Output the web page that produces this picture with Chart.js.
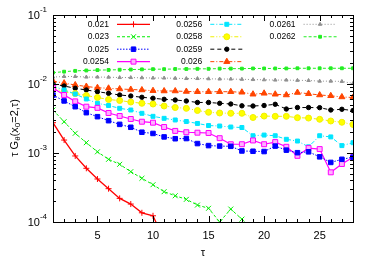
<!DOCTYPE html>
<html>
<head>
<meta charset="utf-8">
<script src="https://cdn.jsdelivr.net/npm/chart.js@4/dist/chart.umd.min.js"></script>
<style>
html, body { margin: 0; padding: 0; background: #fff; }
</style>
</head>
<body>
<canvas id="grafico" width="374" height="262"></canvas>
<script>
// valores
const tau = [1, 2, 3, 4, 5, 6, 7, 8, 9, 10, 11, 12, 13, 14, 15, 16, 17, 18, 19, 20, 21, 22, 23, 24, 25, 26, 27, 28];

const s021 = [2.75e-3, 1.54e-3, 9.06e-4, 6.0e-4, 4.2e-4, 3.04e-4, 2.2e-4, 1.82e-4, 1.36e-4, 1.23e-4, 5.5e-5];
const s023 = [4.2e-3, 2.84e-3, 1.93e-3, 1.41e-3, 1.04e-3, 8.1e-4, 6.86e-4, 5.36e-4, 4.3e-4, 3.47e-4,
  2.75e-4, 2.4e-4, 2.13e-4, 1.76e-4, 1.58e-4, 1.0e-4, 1.54e-4, 1.1e-4];
const s025 = [6.9e-3, 5.68e-3, 4.69e-3, 3.84e-3, 3.36e-3, 2.94e-3, 2.6e-3, 2.36e-3, 2.0e-3, 1.92e-3,
  1.71e-3, 1.61e-3, 1.62e-3, 1.37e-3, 1.28e-3, 1.26e-3, 1.25e-3, 1.07e-3, 1.06e-3, 1.05e-3,
  1.26e-3, 1.1e-3, 1.01e-3, 1.04e-3, 8.8e-4, 7.3e-4, 8.1e-4, 8.7e-4];
const s0254 = [8.75e-3, 6.93e-3, 5.6e-3, 4.69e-3, 4.51e-3, 3.8e-3, 3.44e-3, 3.11e-3, 2.84e-3, 2.75e-3,
  2.38e-3, 2.09e-3, 2.0e-3, 1.97e-3, 1.95e-3, 1.64e-3, 1.34e-3, 1.34e-3, 1.52e-3, 1.34e-3,
  1.44e-3, 1.23e-3, 9.1e-4, 1.18e-3, 1.14e-3, 5.25e-4, 6.93e-4, 8.67e-4];
const s0256 = [9.3e-3, 8.2e-3, 7.16e-3, 6.07e-3, 5.25e-3, 4.88e-3, 4.44e-3, 4.2e-3, 3.76e-3, 3.4e-3,
  3.18e-3, 3.01e-3, 2.86e-3, 2.68e-3, 2.5e-3, 2.46e-3, 2.38e-3, 2.34e-3, 1.78e-3, 1.82e-3,
  1.78e-3, 1.58e-3, 1.49e-3, 1.23e-3, 1.78e-3, 1.71e-3, 1.28e-3, 1.41e-3];
const s0258 = [8.75e-3, 7.73e-3, 7.28e-3, 6.81e-3, 6.37e-3, 5.96e-3, 5.76e-3, 5.48e-3, 5.25e-3, 5.13e-3,
  4.8e-3, 4.56e-3, 4.44e-3, 4.13e-3, 3.89e-3, 3.8e-3, 3.76e-3, 3.76e-3, 3.27e-3, 3.43e-3,
  3.4e-3, 3.4e-3, 3.25e-3, 3.21e-3, 3.08e-3, 2.91e-3, 2.79e-3, 2.59e-3];
const s0259 = [1.0e-2, 9.35e-3, 8.66e-3, 8.19e-3, 7.73e-3, 7.33e-3, 6.93e-3, 6.7e-3, 6.42e-3, 6.21e-3,
  6.0e-3, 5.86e-3, 5.67e-3, 5.4e-3, 5.4e-3, 5.25e-3, 5.13e-3, 4.83e-3, 4.8e-3, 4.88e-3,
  5.08e-3, 4.34e-3, 4.56e-3, 4.56e-3, 4.54e-3, 4.2e-3, 4.3e-3, 4.13e-3];
const s026 = [1.1e-2, 1.03e-2, 9.68e-3, 9.2e-3, 8.84e-3, 8.67e-3, 8.47e-3, 8.33e-3, 8.19e-3, 8.0e-3,
  7.92e-3, 7.92e-3, 7.79e-3, 7.73e-3, 7.73e-3, 7.73e-3, 7.73e-3, 7.59e-3, 7.11e-3, 7.33e-3,
  7.1e-3, 6.93e-3, 7.53e-3, 7.23e-3, 6.93e-3, 6.75e-3, 6.49e-3, 6.37e-3];
const s0261 = [1.26e-2, 1.285e-2, 1.285e-2, 1.26e-2, 1.26e-2, 1.255e-2, 1.24e-2, 1.24e-2, 1.23e-2, 1.22e-2,
  1.22e-2, 1.21e-2, 1.2e-2, 1.2e-2, 1.19e-2, 1.18e-2, 1.18e-2, 1.17e-2, 1.16e-2, 1.15e-2,
  1.14e-2, 1.14e-2, 1.13e-2, 1.125e-2, 1.1e-2, 1.1e-2, 1.09e-2, 1.02e-2];
const s0262 = [1.46e-2, 1.51e-2, 1.55e-2, 1.57e-2, 1.59e-2, 1.6e-2, 1.61e-2, 1.62e-2, 1.63e-2, 1.64e-2,
  1.64e-2, 1.65e-2, 1.65e-2, 1.66e-2, 1.66e-2, 1.67e-2, 1.67e-2, 1.67e-2, 1.68e-2, 1.68e-2,
  1.68e-2, 1.68e-2, 1.69e-2, 1.69e-2, 1.69e-2, 1.69e-2, 1.69e-2, 1.69e-2];

const nomes = ["0.021", "0.023", "0.025", "0.0254", "0.0256", "0.0258", "0.0259", "0.026", "0.0261", "0.0262"];
const series = [s021, s023, s025, s0254, s0256, s0258, s0259, s026, s0261, s0262];

const xTicks = [5, 10, 15, 20, 25];
const yTicks = [1e-4, 1e-3, 1e-2, 1e-1];
const yExpoentes = ["-4", "-3", "-2", "-1"];

// estilo de cada curva (cor, tracejado, marcador)
const estilos = [
  { cor: "#ff0000", fundo: "#ff0000", dash: [], ponto: "cross", raio: 3, larg: 1.3 },
  { cor: "#00ee00", fundo: "#00ee00", dash: [3, 2], ponto: "crossRot", raio: 3.5, larg: 1 },
  { cor: "#0000ff", fundo: "#0000ff", dash: [1.5, 1.5], ponto: "rect", raio: 3.2, larg: 1 },
  { cor: "#ff00ff", fundo: "#ffb0ff", dash: [], ponto: "rect", raio: 3.5, larg: 1.2 },
  { cor: "#00e5ff", fundo: "#00e5ff", dash: [4, 2, 1, 2], ponto: "rect", raio: 2.8, larg: 1 },
  { cor: "#f0f000", fundo: "#ffff00", dash: [4, 2, 1, 2, 1, 2], ponto: "circle", raio: 3, larg: 1 },
  { cor: "#000000", fundo: "#000000", dash: [4, 3], ponto: "circle", raio: 2.2, larg: 1 },
  { cor: "#ff4500", fundo: "#ff4500", dash: [4, 2, 1, 2], ponto: "triangle", raio: 3.5, larg: 1 },
  { cor: "#909090", fundo: "#909090", dash: [1, 2], ponto: "triangle", raio: 2, larg: 1 },
  { cor: "#22ee22", fundo: "#22ee22", dash: [3, 2], ponto: "rect", raio: 2, larg: 1 }
];

const datasets = series.map((s, i) => ({
  label: nomes[i],
  data: s.map((v, k) => ({ x: tau[k], y: v })),
  borderColor: estilos[i].cor,
  backgroundColor: estilos[i].fundo,
  borderDash: estilos[i].dash,
  borderWidth: estilos[i].larg,
  pointStyle: estilos[i].ponto,
  pointRadius: estilos[i].raio,
  pointBorderWidth: 1,
  pointBorderColor: estilos[i].cor,
  pointBackgroundColor: estilos[i].fundo,
  tension: 0,
  clip: 0
}));

const fonte = "'Liberation Sans', Arial, sans-serif";

// eixos no estilo gnuplot, legenda em colunas e titulos com subscritos
const eixos = {
  id: "eixos",
  afterDraw(chart) {
    const { ctx, chartArea: a, scales: { x, y } } = chart;
    ctx.save();
    ctx.setLineDash([]);
    ctx.strokeStyle = "#000";
    ctx.lineWidth = 1;
    const linha = (x1, y1, x2, y2) => { ctx.beginPath(); ctx.moveTo(x1, y1); ctx.lineTo(x2, y2); ctx.stroke(); };

    // marcas do eixo x
    for (let t = x.min; t <= x.max; t++) {
      const px = Math.round(x.getPixelForValue(t)) + 0.5;
      const len = xTicks.includes(t) ? 6 : 3;
      linha(px, a.bottom, px, a.bottom - len);
      linha(px, a.top, px, a.top + len);
    }
    // marcas do eixo y (log)
    yTicks.forEach((v, i) => {
      const py = Math.round(y.getPixelForValue(v)) + 0.5;
      linha(a.left, py, a.left + 6, py);
      linha(a.right, py, a.right - 6, py);
      if (i < yTicks.length - 1) {
        for (let m = 2; m <= 9; m++) {
          const pm = Math.round(y.getPixelForValue(v * m)) + 0.5;
          linha(a.left, pm, a.left + 3, pm);
          linha(a.right, pm, a.right - 3, pm);
        }
      }
    });
    ctx.strokeRect(Math.round(a.left) + 0.5, Math.round(a.top) + 0.5, Math.round(a.right - a.left), Math.round(a.bottom - a.top));

    // rotulos
    ctx.fillStyle = "#000";
    ctx.font = "11px " + fonte;
    ctx.textAlign = "center";
    ctx.textBaseline = "middle";
    xTicks.forEach(t => ctx.fillText(String(t), x.getPixelForValue(t), a.bottom + 14));
    ctx.fillText("τ", (a.left + a.right) / 2, a.bottom + 31);

    yTicks.forEach((v, i) => {
      const py = y.getPixelForValue(v);
      ctx.font = "8px " + fonte;
      const w = ctx.measureText(yExpoentes[i]).width;
      ctx.textAlign = "left";
      ctx.fillText(yExpoentes[i], a.left - 6 - w, py - 5);
      ctx.font = "11px " + fonte;
      ctx.textAlign = "right";
      ctx.fillText("10", a.left - 6 - w, py + 1);
    });

    // titulo do eixo y: τ Gθ(x0=2,τ)
    const partes = [["τ G", 11, 0], ["θ", 8, 3], ["(x", 11, 0], ["0", 8, 3], ["=2,τ)", 11, 0]];
    let total = 0;
    partes.forEach(p => { ctx.font = p[1] + "px " + fonte; total += ctx.measureText(p[0]).width; });
    ctx.translate(15, 128);
    ctx.rotate(-Math.PI / 2);
    ctx.textAlign = "left";
    ctx.textBaseline = "middle";
    let cx = -total / 2;
    partes.forEach(p => {
      ctx.font = p[1] + "px " + fonte;
      ctx.fillText(p[0], cx, p[2]);
      cx += ctx.measureText(p[0]).width;
    });
    ctx.setTransform(1, 0, 0, 1, 0, 0);

    // legenda em 3 colunas
    ctx.font = "8.5px " + fonte;
    chart.data.datasets.forEach((d, i) => {
      const col = Math.floor(i / 4), row = i % 4;
      const lx = 117 + col * 93.3;
      const ly = 24.3 + row * 12.45;
      ctx.fillStyle = "#000";
      ctx.textAlign = "right";
      ctx.fillText(d.label, lx - 8, ly);
      ctx.strokeStyle = d.borderColor;
      ctx.lineWidth = d.borderWidth;
      ctx.setLineDash(d.borderDash);
      linha(lx, ly, lx + 33, ly);
      ctx.setLineDash([]);
      ctx.lineWidth = 1;
      ctx.fillStyle = d.pointBackgroundColor;
      Chart.helpers.drawPoint(ctx, { pointStyle: d.pointStyle, radius: d.pointRadius, rotation: 0, borderWidth: 1 }, lx + 16.5, ly);
    });
    ctx.restore();
  }
};

new Chart(document.getElementById("grafico"), {
  type: "line",
  data: { datasets: datasets },
  options: {
    responsive: false,
    devicePixelRatio: 1,
    animation: false,
    layout: { padding: { left: 53, top: 15, right: 21, bottom: 40 } },
    scales: {
      x: {
        type: "linear",
        min: 1,
        max: 28,
        grid: { display: false, drawTicks: false },
        border: { display: false },
        ticks: { display: false }
      },
      y: {
        type: "logarithmic",
        min: 1e-4,
        max: 1e-1,
        grid: { display: false, drawTicks: false },
        border: { display: false },
        ticks: { display: false }
      }
    },
    plugins: {
      legend: { display: false },
      tooltip: { enabled: false }
    }
  },
  plugins: [eixos]
});
</script>
</body>
</html>
